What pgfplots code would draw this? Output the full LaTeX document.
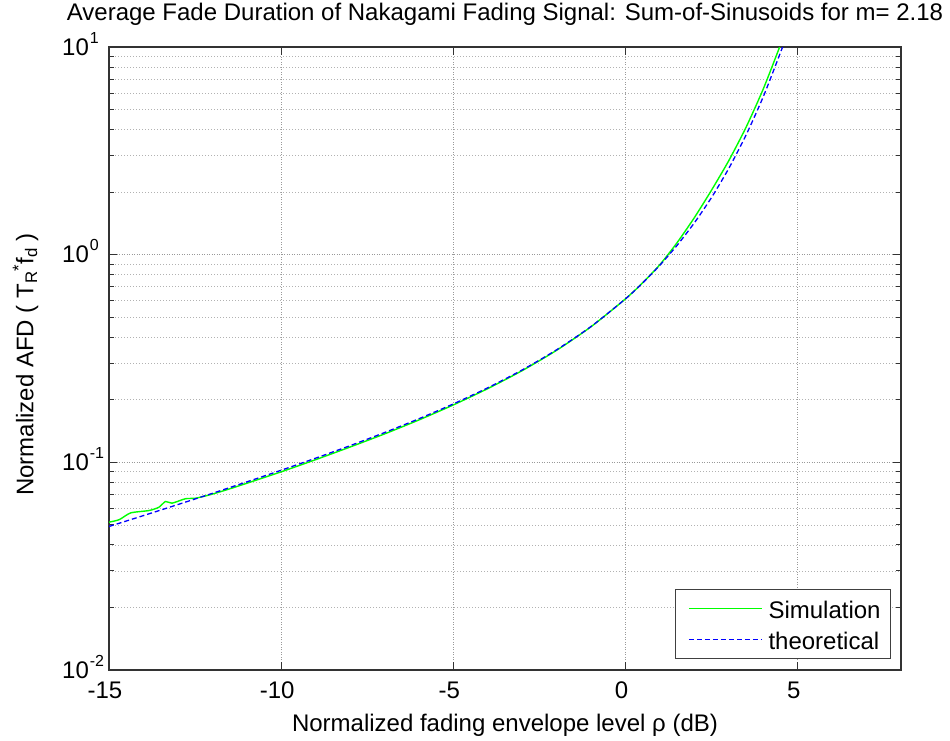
\documentclass[border=0pt]{standalone}
\usepackage{pgfplots}
\pgfplotsset{compat=1.18}
\usepackage{fontspec}
\setmainfont{Liberation Sans}
\definecolor{mgreen}{rgb}{0,1,0}
\definecolor{mblue}{rgb}{0,0,1}
\newcommand{\expo}[1]{\hspace{1pt}\raisebox{12pt}{\fontsize{16}{16}\selectfont #1}}
\begin{document}
\fontsize{24}{28}\selectfont
\begin{tikzpicture}
\path[use as bounding box] (0,0) rectangle (950pt,740pt);
\begin{axis}[
  at={(109pt,70pt)}, anchor=south west,
  scale only axis, width=792pt, height=623pt,
  ymode=log, xmin=-15, xmax=8, ymin=0.01, ymax=10,
  xtick={-15,-10,-5,0,5}, xticklabels={-15,-10,-5,0,5},
  ytick={0.01,0.1,1,10},
  yticklabels={10\expo{-2},10\expo{-1},10\expo{0},10\expo{1}},
  minor ytick={0.02,0.03,0.04,0.05,0.06,0.07,0.08,0.09,0.2,0.3,0.4,0.5,0.6,0.7,0.8,0.9,2,3,4,5,6,7,8,9},
  xticklabel style={inner sep=0pt, anchor=north, yshift=-12pt, xshift=-4pt},
  yticklabel style={inner sep=0pt, anchor=base west, xshift=-47pt, yshift=-8pt},
  xmajorgrids, ymajorgrids, yminorgrids,
  major grid style={black!40, line width=0.7pt, dash pattern=on 1pt off 1.5pt},
  minor grid style={black!30, line width=0.7pt, dash pattern=on 1pt off 2pt},
  axis line style={black!80, line width=1.1pt},
  tick style={black!80, line width=1pt},
  major tick length=8pt, minor tick length=5pt,
  tick align=inside,
  title={Average Fade Duration of Nakagami Fading Signal: Sum-of-Sinusoids for m= 2.18},
  title style={at={(axis description cs:0.5,1.0321)}, anchor=base, inner sep=0pt},
  xlabel={Normalized fading envelope level ρ (dB)},
  xlabel style={at={(axis description cs:0.5,-0.0979)}, anchor=base, inner sep=0pt},
  ylabel={Normalized AFD ( T\textsubscript{R}\textsuperscript{*}f\textsubscript{d} )},
  ylabel style={at={(axis description cs:-0.0956,0.4904)}, anchor=base, inner sep=0pt},
  legend cell align=left,
  legend style={at={(axis description cs:1,0)}, anchor=south east, xshift=-10pt, yshift=11pt,
    draw=black!75, line width=0.9pt, fill=white, inner xsep=8pt, inner ysep=4pt,
    row sep=1pt, column sep=4pt,
    nodes={inner sep=2pt, text height=23pt, text depth=3pt}},
]
\addplot[draw=mgreen, line width=1.4pt, smooth, tension=0.4,
  legend image code/.code={\path (0pt,0pt); \draw[draw=mgreen, line width=1.4pt] (5pt,0pt) -- (78pt,0pt);}] coordinates {
(-15,0.0515) (-14.7,0.0530) (-14.37,0.0571) (-13.84,0.0586) (-13.55,0.0608)
(-13.36,0.0648) (-13.17,0.0636) (-12.78,0.0668) (-12.48,0.0672) (-12,0.0703)
(-11.5,0.0745) (-11,0.0793) (-10.5,0.0845) (-10,0.0900) (-9,0.1030) (-8,0.1185)
(-7,0.1370) (-6,0.1600) (-5,0.1890) (-4,0.2265) (-3,0.2765) (-2,0.3465)
(-1,0.4500) (0,0.6130) (0.5,0.7330) (1,0.8960) (1.5,1.144) (2,1.509)
(2.5,2.048) (3,2.839) (3.5,4.106) (4,6.279) (4.5,10.25) (4.6,11.4)
};
\addlegendentry{Simulation}
\addplot[draw=mblue, line width=1.3pt, dash pattern=on 5pt off 3pt, smooth, tension=0.4,
  legend image code/.code={\path (0pt,0pt); \draw[draw=mblue, line width=1.3pt, dash pattern=on 5pt off 3pt] (5pt,0pt) -- (78pt,0pt);}] coordinates {
(-15,0.049108) (-14,0.055414) (-13,0.062624) (-12,0.070906) (-11,0.080477)
(-10,0.091621) (-9,0.104718) (-8,0.120290) (-7,0.139075) (-6,0.162149)
(-5,0.191128) (-4,0.228549) (-3,0.278564) (-2,0.348343) (-1,0.451069)
(0,0.612896) (0.5,0.731597) (1,0.890772) (1.5,1.110470) (2,1.423814)
(2.5,1.887739) (3,2.604497) (3.5,3.767039) (4,5.760572) (4.5,9.402814) (4.6,10.44)
};
\addlegendentry{theoretical}
\end{axis}
\end{tikzpicture}
\end{document}
